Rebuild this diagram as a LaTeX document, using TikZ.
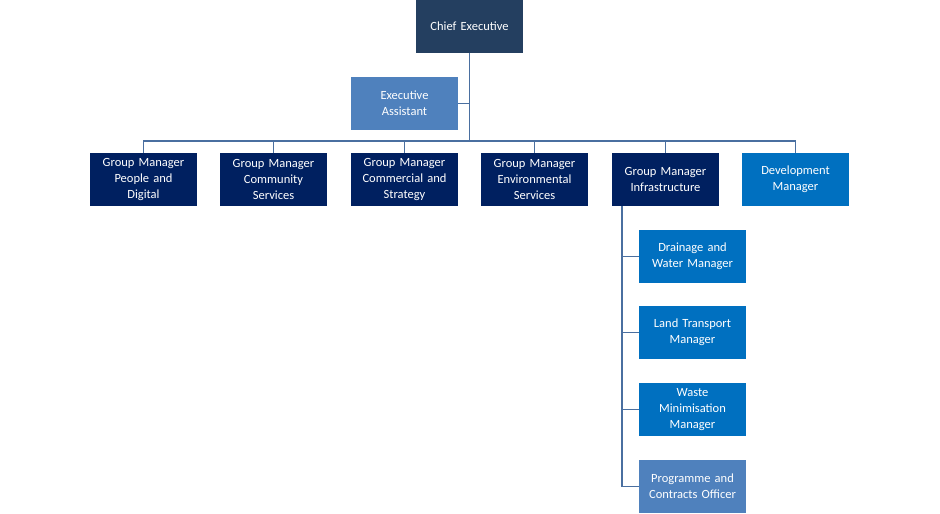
\documentclass[tikz,border=0pt]{standalone}
\usepackage{fontspec}
\setmainfont{Carlito}
\definecolor{navy}{HTML}{002060}
\definecolor{chief}{HTML}{243F60}
\definecolor{midblue}{HTML}{0070C0}
\definecolor{softblue}{HTML}{4F81BD}
\definecolor{linkblue}{HTML}{4A6FA0}
\begin{document}
\begin{tikzpicture}[x=1pt,y=-1pt]
\tikzstyle{post}=[minimum width=107pt,minimum height=53pt,inner sep=1pt,align=center,text=white,font=\fontsize{12.5}{16}\selectfont,text width=104pt]
\tikzstyle{link}=[draw=linkblue,line width=1.6pt]
\useasboundingbox (0,0) rectangle (940,514);
\node[post,fill=chief] (ce) at (469.5,26.5) {Chief Executive};
\node[post,fill=softblue] (ea) at (404.5,103.5) {Executive\\Assistant};
\node[post,fill=navy] (gm1) at (143.5,179.5) {Group Manager\\People and\\Digital};
\node[post,fill=navy] (gm2) at (273.5,179.5) {Group Manager\\Community\\Services};
\node[post,fill=navy] (gm3) at (404.5,179.5) {Group Manager\\Commercial and\\Strategy};
\node[post,fill=navy] (gm4) at (534.5,179.5) {Group Manager\\Environmental\\Services};
\node[post,fill=navy] (gm5) at (665.5,179.5) {Group Manager\\Infrastructure};
\node[post,fill=midblue] (dm) at (795.5,179.5) {Development\\Manager};
\node[post,fill=midblue] (s1) at (692.5,256.5) {Drainage and\\Water Manager};
\node[post,fill=midblue] (s2) at (692.5,332.5) {Land Transport\\Manager};
\node[post,fill=midblue] (s3) at (692.5,409.5) {Waste\\Minimisation\\Manager};
\node[post,fill=softblue] (s4) at (692.5,486.5) {Programme and\\Contracts Officer};
\coordinate (bar) at (469.5,141);
\coordinate (trunk) at (622,206);
\draw[link] (ce.south) -- (bar);
\draw[link] (ea.east) -- (ea.east -| bar);
\foreach \n in {gm1,gm2,gm3,gm4,gm5,dm}
  \draw[link] (\n.north) |- (bar);
\draw[link] (trunk) -- (trunk |- s4.west);
\foreach \n in {s1,s2,s3,s4}
  \draw[link] (\n.west) -- (\n.west -| trunk);
\end{tikzpicture}
\end{document}
